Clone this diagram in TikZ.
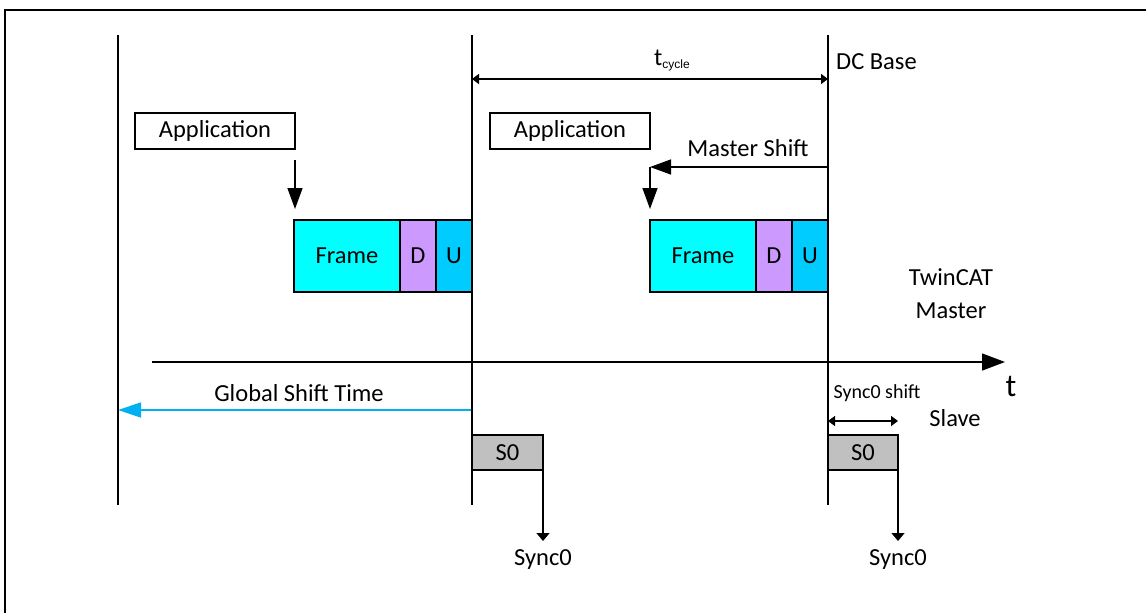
\documentclass[tikz,border=0pt]{standalone}
\usepackage{fontspec}
\setmainfont{Carlito}
\usetikzlibrary{arrows.meta}
\definecolor{framecyan}{RGB}{0,255,255}
\definecolor{dpurple}{RGB}{204,153,255}
\definecolor{ublue}{RGB}{0,204,255}
\definecolor{shiftblue}{RGB}{0,176,240}
\definecolor{sgray}{RGB}{192,192,192}
\begin{document}
\begin{tikzpicture}[x=1pt,y=-1pt,
  every node/.style={font=\fontsize{24.5}{29}\selectfont, inner sep=0pt},
  timeline/.style={line width=1.4pt},
  cell/.style={draw, line width=1.4pt, outer sep=0pt, anchor=north west, minimum height=72pt},
  appbox/.style={draw, line width=1.4pt, outer sep=0pt, anchor=north west, minimum width=160pt, minimum height=36pt},
  sbox/.style={draw, line width=1.4pt, outer sep=0pt, fill=sgray, anchor=north west, minimum width=71pt, minimum height=35pt},
  bigtip/.style={line width=1.4pt, -{Triangle[length=21pt,width=15pt]}},
  axistip/.style={line width=1.4pt, -{Triangle[length=23pt,width=17pt]}},
  smalltip/.style={line width=1.4pt, -{Triangle[length=8pt,width=13pt]}},
  dimarrow/.style={line width=1.4pt, {Triangle[length=7pt,width=10pt]}-{Triangle[length=7pt,width=10pt]}},
  smalltext/.style={font=\fontsize{20}{24}\selectfont}
]
\useasboundingbox (0,0) rectangle (1146,613);
% frame edges
\draw[line width=2pt] (5,613) -- (5,10) -- (1146,10);

% time lines
\coordinate (l0t) at (118,35);  \coordinate (l0b) at (118,505);
\coordinate (l1t) at (472,35);  \coordinate (l1b) at (472,505);
\coordinate (l2t) at (828,35);  \coordinate (l2b) at (828,505);

% cycle time
\coordinate (cyA) at (472,79);
\coordinate (cyB) at (828,79);
\draw[dimarrow] (cyA) -- (cyB);
\node (tcyc) at (672,60) {t\raisebox{-3pt}{\fontspec{Liberation Sans}\fontsize{12}{12}\selectfont cycle}};
\node[anchor=west] (dcbase) at (836,62) {DC Base};

% first cycle
\node[appbox] (app1) at (135,113) {Application};
\node[cell, fill=framecyan, minimum width=106pt] (fr1) at (294,220) {Frame};
\node[cell, fill=dpurple, minimum width=36pt] (d1) at (fr1.north east) {D};
\node[cell, fill=ublue, minimum width=36pt] (u1) at (d1.north east) {U};
\draw[bigtip, shorten <=11pt, shorten >=11pt] (app1.south east) -- (app1.south east |- fr1.north);

% second cycle
\node[appbox] (app2) at (490,113) {Application};
\node[cell, fill=framecyan, minimum width=106pt] (fr2) at (650,220) {Frame};
\node[cell, fill=dpurple, minimum width=36pt] (d2) at (fr2.north east) {D};
\node[cell, fill=ublue, minimum width=36pt] (u2) at (d2.north east) {U};
\coordinate (msA) at (828,167);
\coordinate (msB) at (650,167);
\draw[bigtip] (msA) -- (msB);
\draw[bigtip, shorten >=11pt] (msB) -- (fr2.north west);
\node (mshift) at (748,148) {Master Shift};

\node (twincat) at (951,277) {TwinCAT};
\node (master) at (951,311) {Master};

% time axis
\coordinate (axA) at (152,362);
\coordinate (axB) at (1005,362);
\draw[axistip] (axA) -- (axB);
\node (tlab) at (1011,386) {\fontsize{32}{36}\selectfont t};

% global shift
\coordinate (gsA) at (472,410);
\coordinate (gsB) at (118,410);
\draw[line width=1.4pt, shiftblue, -{Triangle[length=23pt,width=15pt]}] (gsA) -- (gsB);
\node (gslab) at (299,393) {Global Shift Time};

% slave sync pulses
\node[sbox] (s01) at (472,435) {S0};
\node[sbox, minimum width=70pt] (s02) at (828,435) {S0};
\node (sync1) at (543,560) {Sync0};
\node (sync2) at (898,560) {Sync0};
\draw[smalltip] (s01.south east) -- (s01.south east |- 0,541);
\draw[smalltip] (s02.south east) -- (s02.south east |- 0,541);
\coordinate (ssA) at (828,421);
\coordinate (ssB) at (898,421);
\draw[dimarrow] (ssA) -- (ssB);
\node[smalltext] (sslab) at (877,393) {Sync0 shift};
\node (slave) at (955,418) {Slave};

% time lines drawn last so they stay on top of the boxes
\draw[timeline] (l0t) -- (l0b);
\draw[timeline] (l1t) -- (l1b);
\draw[timeline] (l2t) -- (l2b);
\end{tikzpicture}
\end{document}
